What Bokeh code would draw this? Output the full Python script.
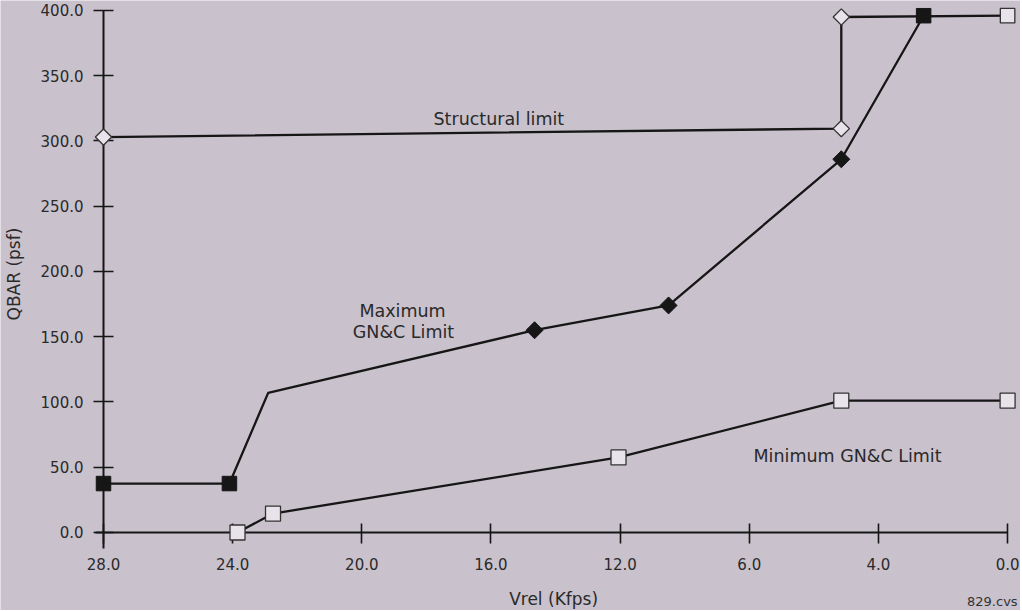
import math
from bokeh.plotting import figure
from bokeh.models import Range1d, FixedTicker, CustomJSTickFormatter, Label, ColumnDataSource
from bokeh.embed import file_html
from bokeh.resources import INLINE

# ---------------- data ----------------
struct_vrel = [28.0, 5.15, 5.15, 0.0]
struct_qbar = [303.0, 309.5, 395.0, 396.0]
struct_marker = ["diamond", "diamond", "diamond", "square"]

max_vrel = [28.0, 24.1, 22.9, 14.65, 10.5, 5.15, 2.6]
max_qbar = [37.5, 37.5, 107.0, 155.0, 174.0, 286.0, 396.0]
max_marker = ["square", "square", "", "diamond", "diamond", "diamond", "square"]

min_vrel = [23.85, 22.75, 12.05, 5.15, 0.0]
min_qbar = [0.0, 14.5, 57.5, 101.0, 101.0]
min_marker = ["square", "square", "square", "square", "square"]

x_ticks = [28, 24, 20, 16, 12, 8, 4, 0]
x_tick_labels = ["28.0", "24.0", "20.0", "16.0", "12.0", "6.0", "4.0", "0.0"]
y_ticks = [0, 50, 100, 150, 200, 250, 300, 350, 400]

# ---------------- styling ----------------
BG = "#c9c1cb"
INK = "#161616"
TXT = "#2a2a2a"
OPEN_FILL = "#e8e3ea"
FONT = "DejaVu Sans"

p = figure(width=1020, height=610, title=None,
           x_range=Range1d(31.19, -0.40), y_range=Range1d(-59.77, 407.66),
           min_border_left=0, min_border_right=0, min_border_top=0, min_border_bottom=0,
           output_backend="svg", toolbar_location=None)
p.background_fill_color = BG
p.border_fill_color = BG
p.outline_line_color = None
p.xgrid.visible = False
p.ygrid.visible = False

# axes crossing at (28, 0)
xa = p.xaxis[0]
ya = p.yaxis[0]
xa.fixed_location = 0
ya.fixed_location = 28
xa.bounds = (0, 28.25)
ya.bounds = (-12.26, 400)
xa.ticker = FixedTicker(ticks=x_ticks, minor_ticks=[])
ya.ticker = FixedTicker(ticks=y_ticks, minor_ticks=[])
xa.formatter = CustomJSTickFormatter(args=dict(tick_vals=x_ticks, tick_labs=x_tick_labels), code="""
const i = tick_vals.indexOf(tick);
return i >= 0 ? tick_labs[i] : tick.toFixed(1);
""")
ya.formatter = CustomJSTickFormatter(code="return tick.toFixed(1);")
for ax in (xa, ya):
    ax.axis_line_color = INK
    ax.axis_line_width = 2
    ax.major_tick_line_color = INK
    ax.major_tick_line_width = 1.6
    ax.minor_tick_line_color = None
    ax.major_label_text_font = FONT
    ax.major_label_text_font_size = "15px"
    ax.major_label_text_color = TXT
xa.major_tick_in = 9
xa.major_tick_out = 11
xa.major_label_standoff = 15
ya.major_tick_in = 10
ya.major_tick_out = 10
ya.major_label_standoff = 10

# ---------------- lines ----------------
p.line(struct_vrel, struct_qbar, line_color=INK, line_width=2.3)
p.line(max_vrel, max_qbar, line_color=INK, line_width=2.3)
p.line(min_vrel, min_qbar, line_color=INK, line_width=2.3)


def pick(xs, ys, ms, kind):
    sel = [i for i, m in enumerate(ms) if m == kind]
    return ColumnDataSource(dict(x=[xs[i] for i in sel], y=[ys[i] for i in sel]))


marker_renderers = []
# structural limit: open diamonds, open square at the end
marker_renderers.append(p.scatter("x", "y", source=pick(struct_vrel, struct_qbar, struct_marker, "diamond"),
                                  marker="square", angle=math.pi / 4, size=11.5,
                                  fill_color=OPEN_FILL, line_color="#333333", line_width=1.3))
marker_renderers.append(p.scatter("x", "y", source=pick(struct_vrel, struct_qbar, struct_marker, "square"),
                                  marker="square", size=14.5,
                                  fill_color=OPEN_FILL, line_color="#333333", line_width=1.3))
# maximum GN&C limit: black squares and black diamonds
marker_renderers.append(p.scatter("x", "y", source=pick(max_vrel, max_qbar, max_marker, "square"),
                                  marker="square", size=14.5,
                                  fill_color=INK, line_color=INK, line_width=1))
marker_renderers.append(p.scatter("x", "y", source=pick(max_vrel, max_qbar, max_marker, "diamond"),
                                  marker="square", angle=math.pi / 4, size=12,
                                  fill_color=INK, line_color=INK, line_width=1))
# minimum GN&C limit: open squares
marker_renderers.append(p.scatter("x", "y", source=pick(min_vrel, min_qbar, min_marker, "square"),
                                  marker="square", size=15,
                                  fill_color=OPEN_FILL, line_color="#333333", line_width=1.3))
for r in marker_renderers:
    r.level = "overlay"

# ---------------- annotations ----------------
def add_label(x, y, text, size="17.5px", align="left", angle=0.0, color=TXT):
    p.add_layout(Label(x=x, y=y, text=text, text_font=FONT, text_font_size=size,
                       text_color=color, text_align=align, text_baseline="middle",
                       angle=angle))


add_label(17.78, 317.0, "Structural limit")
add_label(18.74, 170.0, "Maximum", align="center")
add_label(18.71, 154.0, "GN&C Limit", align="center")
add_label(7.87, 59.0, "Minimum GN&C Limit")
add_label(14.06, -50.6, "Vrel (Kfps)", size="17px", align="center")
add_label(30.76, 198.0, "QBAR (psf)", size="17px", align="center", angle=math.pi / 2)
add_label(-0.31, -52.9, "829.cvs", size="13px", align="right", color="#333333")

html = file_html(p, INLINE)
html = html.replace("<body>", '<body style="background-color:%s;">' % BG, 1)
open("out.html", "w").write(html)
